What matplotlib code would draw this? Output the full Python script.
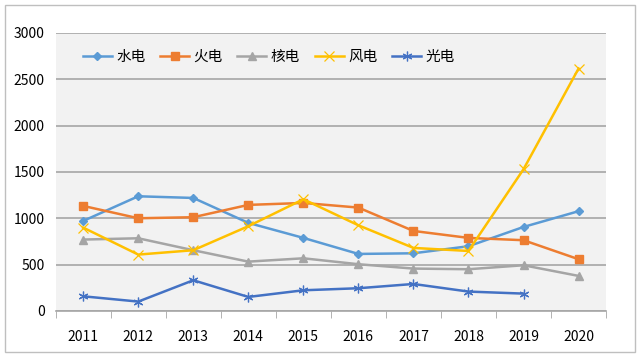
import matplotlib
matplotlib.use("Agg")
import matplotlib.pyplot as plt
from matplotlib.patches import Rectangle
import numpy as np

plt.rcParams['font.family'] = ['Noto Sans CJK SC', 'DejaVu Sans']

years = ['2011', '2012', '2013', '2014', '2015', '2016', '2017', '2018', '2019', '2020']
hydro = [971, 1237, 1219, 950, 788, 615, 622, 698, 906, 1076]
thermal = [1133, 1000, 1011, 1144, 1165, 1115, 863, 788, 763, 558]
nuclear = [770, 784, 655, 532, 568, 504, 457, 450, 493, 378]
wind = [899, 608, 655, 914, 1205, 924, 680, 647, 1529, 2615]
solar = [158, 101, 331, 151, 223, 245, 291, 209, 187, None]

series = [
    ('水电', hydro, '#5B9BD5', 'D', 4.5, 1.0),
    ('火电', thermal, '#ED7D31', 's', 5.5, 1.0),
    ('核电', nuclear, '#A5A5A5', '^', 5.5, 1.0),
    ('风电', wind, '#FFC000', 'x', 6.5, 0.9),
    ('光电', solar, '#4472C4', (6, 2, 0), 7, 0.9),
]

fig = plt.figure(figsize=(6.4, 3.57), dpi=100)
fig.patches.append(Rectangle((0.008, 0.013), 0.984, 0.973, transform=fig.transFigure,
                             fill=False, edgecolor='#BFBFBF', linewidth=1.0))
ax = fig.add_axes([0.087, 0.129, 0.86, 0.779])
ax.set_facecolor('#F2F2F2')

x = np.arange(len(years))
for name, vals, color, marker, ms, mew in series:
    xs = [xi for xi, v in zip(x, vals) if v is not None]
    ys = [v for v in vals if v is not None]
    ax.plot(xs, ys, color=color, linewidth=1.8, marker=marker, markersize=ms,
            markerfacecolor=color, markeredgecolor=color, markeredgewidth=mew, label=name)

ax.set_xlim(-0.5, len(years) - 0.5)
ax.set_ylim(0, 3000)
ax.set_yticks([0, 500, 1000, 1500, 2000, 2500, 3000])
ax.yaxis.grid(True, color='#A6A6A6', linewidth=1.2)
ax.set_axisbelow(True)
ax.tick_params(axis='y', length=0, labelsize=10, pad=8)

ax.set_xticks(x)
ax.set_xticklabels(years)
ax.set_xticks(np.arange(-0.5, len(years), 1.0), minor=True)
ax.tick_params(axis='x', which='major', length=0, labelsize=10, pad=14)
ax.tick_params(axis='x', which='minor', length=5, color='#A6A6A6', direction='out')

for s in ['top', 'right', 'left']:
    ax.spines[s].set_visible(False)
ax.spines['bottom'].set_color('#A6A6A6')
ax.spines['bottom'].set_linewidth(1.2)

leg = ax.legend(loc='upper left', ncol=5, frameon=False, fontsize=10.5,
                bbox_to_anchor=(0.025, 0.985), handlelength=2.0, handletextpad=0.3,
                columnspacing=1.0)

fig.savefig('out.png', dpi=100)
